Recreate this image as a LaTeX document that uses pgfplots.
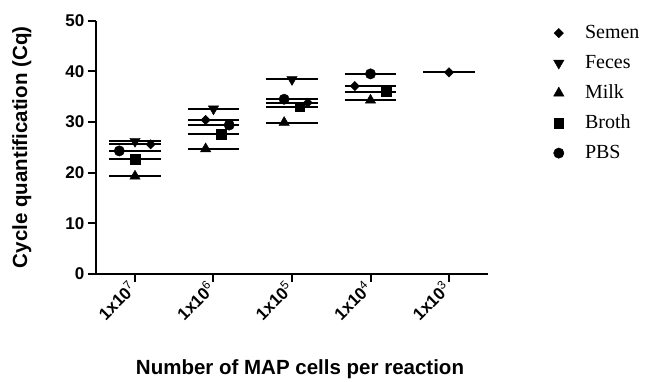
\documentclass[border=0pt]{standalone}
\usepackage{fontspec}
\setmainfont{Liberation Sans}
\newfontfamily\timesfont{Liberation Serif}
\usepackage{pgfplots}
\pgfplotsset{compat=1.18}
\begin{document}
\begin{tikzpicture}
\begin{axis}[
  scale only axis, width=392.5pt, height=253.3pt,
  xmin=-0.5, xmax=4.5, ymin=0, ymax=50,
  axis x line*=bottom, axis y line*=left,
  axis line style={line width=2pt},
  every tick/.style={black, line width=2pt},
  major tick length=8pt, tick align=outside,
  ytick={0,10,20,30,40,50},
  xtick={0,1,2,3,4},
  xticklabels={1x10\textsuperscript{\mdseries 7},1x10\textsuperscript{\mdseries 6},1x10\textsuperscript{\mdseries 5},1x10\textsuperscript{\mdseries 4},1x10\textsuperscript{\mdseries 3}},
  tick label style={font=\fontsize{17}{20}\selectfont\bfseries},
  /pgf/number format/assume math mode=true,
  xticklabel style={rotate=45, anchor=east},
  ylabel={Cycle quantification (Cq)},
  xlabel={Number of MAP cells per reaction},
  label style={font=\fontsize{20.5}{24}\selectfont\bfseries},
  ylabel style={at={(rel axis cs:-0.1885,0.5)}, anchor=center},
  xlabel style={at={(rel axis cs:0.5204,-0.3987)}, anchor=base},
  legend cell align=left,
  legend style={draw=none, fill=none, inner sep=0pt,
    at={(rel axis cs:1.166,1.011)}, anchor=north west,
    font=\timesfont\fontsize{20}{24}\selectfont,
    nodes={inner xsep=0pt, inner ysep=6pt, text height=14pt, text depth=4pt},
    /tikz/every odd column/.append style={column sep=21pt}},
  mk/.style={only marks, black, mark options={fill=black, draw=black, line width=0.4pt}},
  ml/.style={forget plot, black, line width=2pt, mark=none},
]
\coordinate (o) at (rel axis cs:0,0);
% mean lines
\addplot[ml] coordinates {(-0.33,26.2)(0.33,26.2)};
\addplot[ml] coordinates {(-0.33,25.6)(0.33,25.6)};
\addplot[ml] coordinates {(-0.33,24.3)(0.33,24.3)};
\addplot[ml] coordinates {(-0.33,22.7)(0.33,22.7)};
\addplot[ml] coordinates {(-0.33,19.3)(0.33,19.3)};
\addplot[ml] coordinates {(0.67,32.6)(1.33,32.6)};
\addplot[ml] coordinates {(0.67,30.4)(1.33,30.4)};
\addplot[ml] coordinates {(0.67,29.4)(1.33,29.4)};
\addplot[ml] coordinates {(0.67,27.6)(1.33,27.6)};
\addplot[ml] coordinates {(0.67,24.7)(1.33,24.7)};
\addplot[ml] coordinates {(1.67,38.4)(2.33,38.4)};
\addplot[ml] coordinates {(1.67,34.5)(2.33,34.5)};
\addplot[ml] coordinates {(1.67,33.8)(2.33,33.8)};
\addplot[ml] coordinates {(1.67,33.0)(2.33,33.0)};
\addplot[ml] coordinates {(1.67,29.9)(2.33,29.9)};
\addplot[ml] coordinates {(2.67,39.5)(3.33,39.5)};
\addplot[ml] coordinates {(2.67,37.1)(3.33,37.1)};
\addplot[ml] coordinates {(2.67,36.0)(3.33,36.0)};
\addplot[ml] coordinates {(2.67,34.3)(3.33,34.3)};
\addplot[ml] coordinates {(3.67,39.8)(4.33,39.8)};
% points
\addplot[mk, mark=square*, mark size=3.3pt, mark options={rotate=45, fill=black}] coordinates {(0.2,25.6)(0.9,30.4)(2.2,33.8)(2.8,37.1)(4,39.8)};
\addlegendentry{Semen}
\addplot[mk, mark=triangle*, mark size=6pt, mark options={rotate=180, fill=black}] coordinates {(0,26.2)(1,32.6)(2,38.4)};
\addlegendentry{Feces}
\addplot[mk, mark=triangle*, mark size=6pt] coordinates {(0,19.3)(0.9,24.7)(1.9,29.9)(3,34.3)};
\addlegendentry{Milk}
\addplot[mk, mark=square*, mark size=4.8pt] coordinates {(0,22.7)(1.1,27.6)(2.1,33.0)(3.2,36.0)};
\addlegendentry{Broth}
\addplot[mk, mark=*, mark size=5.2pt] coordinates {(-0.2,24.3)(1.2,29.4)(1.9,34.5)(3,39.5)};
\addlegendentry{PBS}
\end{axis}
\pgfresetboundingbox
\path (o) ++(-95.75pt,-108pt) rectangle ++(652pt,382pt);
\end{tikzpicture}
\end{document}
